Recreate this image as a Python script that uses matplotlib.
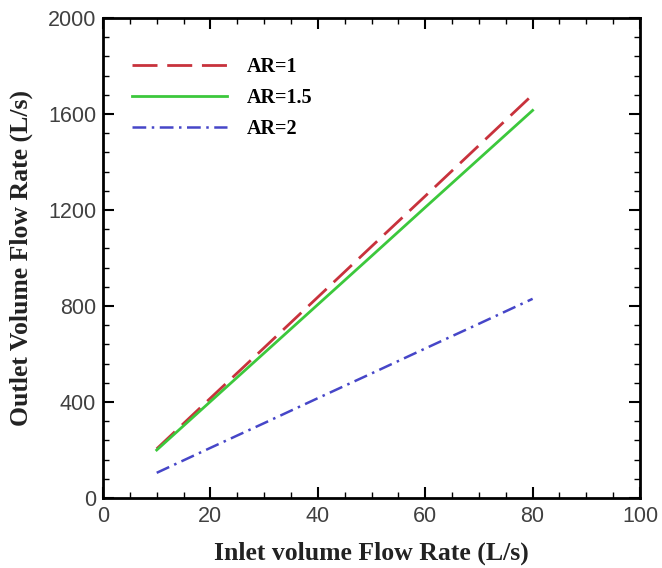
import numpy as np
import matplotlib.pyplot as plt
from matplotlib.ticker import MultipleLocator

# inlet flow rate (L/s) and outlet flow rate (L/s) for each aspect ratio
inlet = [10, 20, 30, 40, 50, 60, 70, 80]
outlet_ar1 = [205, 416, 626, 837, 1048, 1258, 1469, 1680]
outlet_ar15 = [200, 402, 604, 806, 1008, 1211, 1413, 1615]
outlet_ar2 = [105, 209, 312, 416, 519, 623, 726, 830]

fig = plt.figure(figsize=(6.62, 5.68), dpi=100)
ax = fig.add_axes([0.1556, 0.1232, 0.8112, 0.8451])

ax.plot(inlet, outlet_ar1, color='#c8323c', lw=2, ls=(0, (9, 3.5)), label='AR=1')
ax.plot(inlet, outlet_ar15, color='#3cc83c', lw=2, ls='-', label='AR=1.5')
ax.plot(inlet, outlet_ar2, color='#4646c8', lw=1.8, ls=(0, (5.5, 2.2, 1, 2.2)), label='AR=2')

ax.set_xlim(0, 100)
ax.set_ylim(0, 2000)
ax.xaxis.set_major_locator(MultipleLocator(20))
ax.xaxis.set_minor_locator(MultipleLocator(5))
ax.yaxis.set_major_locator(MultipleLocator(400))
ax.yaxis.set_minor_locator(MultipleLocator(80))
ax.tick_params(which='both', direction='in', top=True, right=True,
               labelsize=15.5, width=1.5)
ax.tick_params(which='major', length=8)
ax.tick_params(which='minor', length=4, width=1)
for lbl in ax.get_xticklabels() + ax.get_yticklabels():
    lbl.set_family('Liberation Sans')
    lbl.set_color('#404040')
ax.tick_params(axis='x', pad=6)
ax.tick_params(axis='y', pad=5)
for s in ax.spines.values():
    s.set_linewidth(2)

ax.set_xlabel('Inlet volume Flow Rate (L/s)', family='Liberation Serif',
              fontweight='bold', fontsize=18.5, color='#222222')
ax.set_ylabel('Outlet Volume Flow Rate (L/s)', family='Liberation Serif',
              fontweight='bold', fontsize=18.5, color='#222222')
ax.xaxis.set_label_coords(0.5, -0.09)
ax.yaxis.set_label_coords(-0.13, 0.5)

ax.legend(loc='upper left', bbox_to_anchor=(0.054, 0.919), frameon=False,
          borderpad=0, borderaxespad=0, handlelength=4.7, handletextpad=1.0,
          prop={'family': 'Liberation Serif', 'weight': 'bold', 'size': 14.5},
          labelspacing=0.55)

fig.savefig('out.png', dpi=100)
